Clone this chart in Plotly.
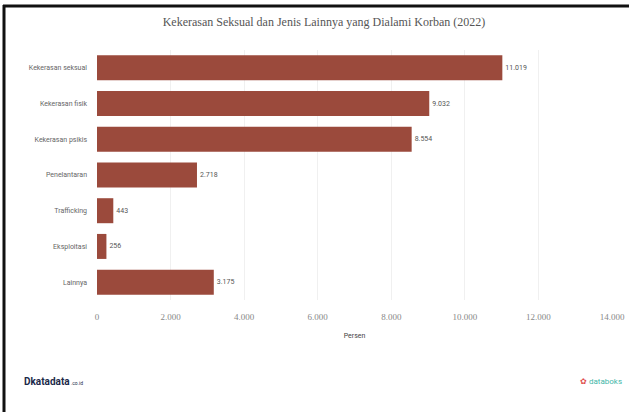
import plotly.graph_objects as go

categories = ["Kekerasan seksual", "Kekerasan fisik", "Kekerasan psikis",
              "Penelantaran", "Trafficking", "Eksploitasi", "Lainnya"]
values = [11019, 9032, 8554, 2718, 443, 256, 3175]
value_labels = ["11.019", "9.032", "8.554", "2.718", "443", "256", "3.175"]
tick_vals = [0, 2000, 4000, 6000, 8000, 10000, 12000, 14000]
tick_text = ["0", "2.000", "4.000", "6.000", "8.000", "10.000", "12.000", "14.000"]

fig = go.Figure(go.Bar(
    y=categories, x=values, orientation="h",
    marker=dict(color="#9b4a3c", line=dict(width=0)),
    width=0.7,
    text=value_labels, textposition="outside",
    textfont=dict(family="Roboto, sans-serif", size=7, color="#555"),
    cliponaxis=False,
))

# px -> paper helpers (plot area x:97..612, y:50..300)
def px(x):
    return (x - 97) / 515.0

def py(y):
    return (300 - y) / 250.0

fig.update_layout(
    width=629, height=412,
    margin=dict(l=97, r=17, t=50, b=112),
    paper_bgcolor="white", plot_bgcolor="white",
    showlegend=False,
    title=dict(text="Kekerasan Seksual dan Jenis Lainnya yang Dialami Korban (2022)",
               x=0.515, xanchor="center", y=0.947, yanchor="middle",
               font=dict(family="Liberation Serif, serif", size=12, color="#555")),
    xaxis=dict(range=[0, 14000], tickvals=tick_vals, ticktext=tick_text,
               automargin=False,
               showgrid=True, gridcolor="#f0f0f0", gridwidth=1, zeroline=False,
               showline=False, ticks="", ticklabelstandoff=10,
               tickfont=dict(family="Liberation Serif, serif", size=9, color="#888"),
               title=dict(text="Persen", standoff=12,
                          font=dict(family="Roboto, sans-serif", size=7, color="#444"))),
    yaxis=dict(autorange="reversed", showgrid=False, showline=False, ticks="",
               automargin=False, ticklabelstandoff=9,
               tickfont=dict(family="Roboto, sans-serif", size=7, color="#666")),
    bargap=0.3,
    shapes=[
        dict(type="line", xref="paper", yref="paper", x0=px(4), x1=px(4),
             y0=py(5), y1=py(412), line=dict(color="#111", width=3)),
        dict(type="line", xref="paper", yref="paper", x0=px(3), x1=px(629),
             y0=py(6), y1=py(6), line=dict(color="#111", width=3)),
    ],
    annotations=[
        dict(text="<b>D</b><b>katadata</b><span style='font-size:5px'> .co.id</span>",
             xref="paper", yref="paper", x=px(22), y=py(381),
             xanchor="left", yanchor="middle", showarrow=False,
             font=dict(family="Roboto, sans-serif", size=10, color="#1c2a4a")),
        dict(text="<span style='color:#e05050'>✿</span> databoks",
             xref="paper", yref="paper", x=px(624), y=py(381),
             xanchor="right", yanchor="middle", showarrow=False,
             font=dict(family="Roboto, sans-serif", size=8, color="#3fb6a8")),
    ],
)

fig.write_html("out.html", config={"displayModeBar": False},
               post_script="document.body.style.margin='0px';document.body.style.overflow='hidden';")
